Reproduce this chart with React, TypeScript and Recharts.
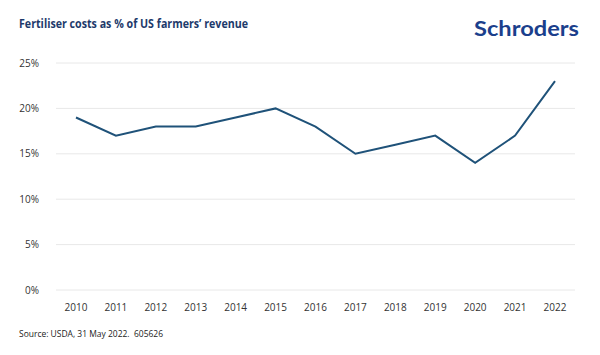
import { LineChart, Line, XAxis, YAxis, CartesianGrid } from "recharts";

// values (% of revenue)
const years = ["2010", "2011", "2012", "2013", "2014", "2015", "2016", "2017", "2018", "2019", "2020", "2021", "2022"];
const fertiliserShare = [19, 17, 18, 18, 19, 20, 18, 15, 16, 17, 14, 17, 23];
const yTicks = [0, 5, 10, 15, 20, 25];

const data = years.map((year, i) => ({ year, value: fertiliserShare[i] }));

const FONT = "'Open Sans', 'Noto Sans', sans-serif";

export default function App() {
  return (
    <div style={{ position: "absolute", left: 0, top: 0, width: 600, height: 355, background: "#fff" }}>
      <LineChart
        width={600}
        height={355}
        data={data}
        margin={{ top: 63, right: 25, left: 0, bottom: 35 }}
      >
        <CartesianGrid vertical={false} stroke="#e8e8e8" />
        <XAxis
          dataKey="year"
          axisLine={false}
          tickLine={false}
          tickSize={0}
          tickMargin={14}
          height={30}
          interval={0}
          padding={{ left: 20, right: 20 }}
          tick={{ fontSize: 10, fill: "#333", fontFamily: FONT }}
        />
        <YAxis
          domain={[0, 25]}
          ticks={yTicks}
          tickFormatter={(v: number) => `${v}%`}
          axisLine={false}
          tickLine={false}
          tickSize={0}
          tickMargin={17}
          width={56}
          tick={{ fontSize: 10, fill: "#333", fontFamily: FONT }}
        />
        <Line
          type="linear"
          dataKey="value"
          stroke="#1f5279"
          strokeWidth={2}
          dot={false}
          isAnimationActive={false}
        />
      </LineChart>
      <svg
        width={600}
        height={355}
        style={{ position: "absolute", left: 0, top: 0, pointerEvents: "none" }}
      >
        <text
          x={19}
          y={28}
          fontFamily={FONT}
          fontSize={11.5}
          fontWeight={700}
          fill="#1d3a6b"
          textLength={229}
          lengthAdjust="spacingAndGlyphs"
        >
          Fertiliser costs as % of US farmers’ revenue
        </text>
        <text
          x={474}
          y={36}
          fontFamily="Lato, 'Open Sans', sans-serif"
          fontSize={20}
          fontWeight={700}
          fill="#1b3f8c"
          textLength={105}
          lengthAdjust="spacingAndGlyphs"
        >
          Schroders
        </text>
        <text
          x={19}
          y={337}
          fontFamily={FONT}
          fontSize={9.5}
          fill="#222"
          textLength={144}
          lengthAdjust="spacingAndGlyphs"
        >
          {"Source: USDA, 31 May 2022.\u00a0 605626"}
        </text>
      </svg>
    </div>
  );
}
